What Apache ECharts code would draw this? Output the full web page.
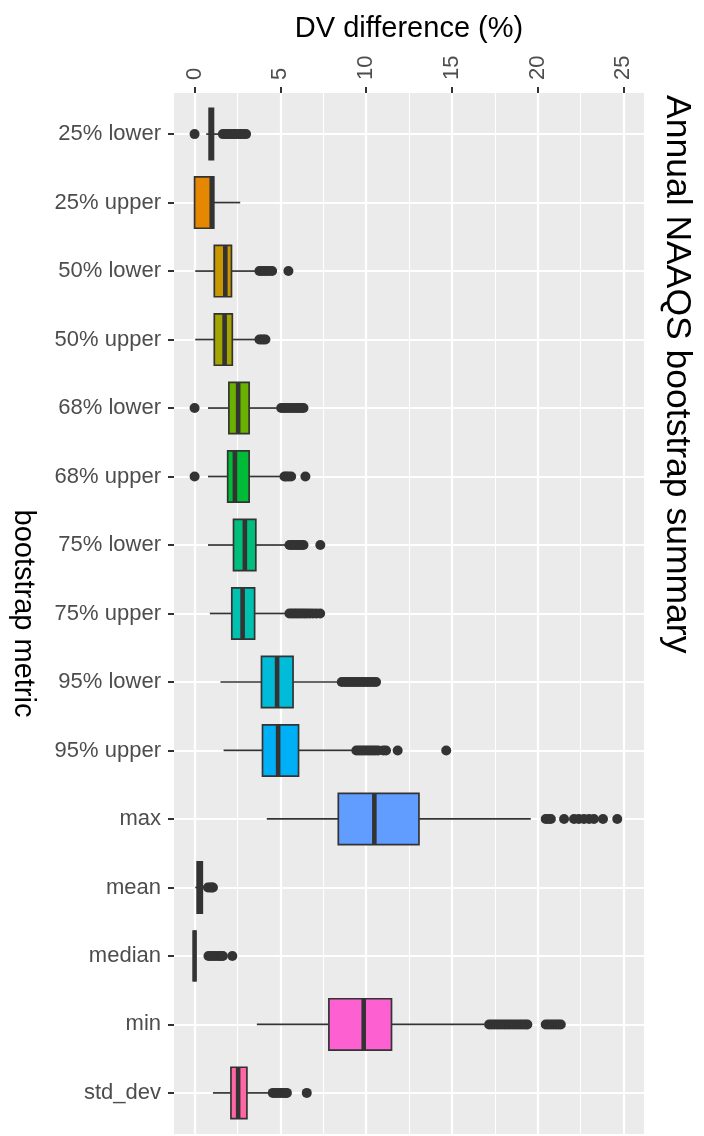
<!DOCTYPE html>
<html>
<head>
<meta charset="utf-8">
<title>Annual NAAQS bootstrap summary</title>
<script src="https://cdn.jsdelivr.net/npm/echarts@6/dist/echarts.min.js"></script>
<style>
  html, body { margin: 0; padding: 0; background: #fff; }
  #chart { width: 704px; height: 1136px; }
</style>
</head>
<body>
<div id="chart"></div>
<script>
// categories, top to bottom
var metrics = ['25% lower', '25% upper', '50% lower', '50% upper', '68% lower', '68% upper',
  '75% lower', '75% upper', '95% lower', '95% upper', 'max', 'mean', 'median', 'min', 'std_dev'];

// box statistics (DV difference, %)
var whiskerLow  = [0.68, 0,    0.04, 0.04, 0.78, 0.78, 0.78, 0.89, 1.51, 1.69, 4.21,  0.04, 0, 3.63,  1.07];
var q1          = [0.85, 0,    1.15, 1.15, 2.0,  1.93, 2.27, 2.17, 3.9,  3.96, 8.38,  0.15, 0, 7.83,  2.12];
var medians     = [0.97, 1.0,  1.79, 1.75, 2.54, 2.35, 2.93, 2.8,  4.81, 4.87, 10.48, 0.3,  0, 9.86,  2.54];
var q3          = [1.1,  1.12, 2.15, 2.2,  3.18, 3.18, 3.57, 3.5,  5.74, 6.06, 13.08, 0.45, 0, 11.48, 3.05];
var whiskerHigh = [1.45, 2.66, 3.6,  3.6,  4.9,  5.0,  5.3,  5.3,  8.4,  9.2,  19.6,  0.6,  0, 16.9,  4.3];

// outlying points per metric
var outliers = [
  [0, 1.65, 1.8, 1.95, 2.1, 2.25, 2.4, 2.55, 2.7, 2.85, 3.0],
  [],
  [3.78, 3.9, 4.05, 4.2, 4.35, 4.52, 5.47],
  [3.78, 3.9, 4.02, 4.13],
  [0, 5.05, 5.2, 5.35, 5.5, 5.65, 5.8, 5.95, 6.1, 6.22, 6.35],
  [0, 5.24, 5.35, 5.48, 5.63, 6.46],
  [5.53, 5.68, 5.82, 5.96, 6.1, 6.22, 6.35, 7.33],
  [5.53, 5.68, 5.82, 5.96, 6.1, 6.25, 6.4, 6.55, 6.72, 6.9, 7.1, 7.32],
  [8.58, 8.75, 8.9, 9.05, 9.2, 9.35, 9.5, 9.65, 9.8, 9.95, 10.1, 10.25, 10.42, 10.58],
  [9.43, 9.57, 9.71, 9.85, 9.99, 10.13, 10.27, 10.41, 10.55, 10.7, 11.0, 11.16, 11.84, 14.67],
  [20.47, 20.62, 20.77, 21.54, 22.12, 22.4, 22.7, 23.0, 23.28, 23.81, 24.64],
  [0.78, 0.9, 1.0, 1.07],
  [0.81, 0.95, 1.1, 1.25, 1.4, 1.53, 1.65, 2.2],
  [17.17, 17.32, 17.47, 17.62, 17.77, 17.92, 18.07, 18.22, 18.37, 18.52, 18.67, 18.82, 18.97,
   19.12, 19.27, 19.4, 20.47, 20.62, 20.77, 20.92, 21.07, 21.22, 21.35],
  [4.56, 4.7, 4.85, 5.0, 5.15, 5.28, 5.38, 6.54]
];

var fills = ['#F8766D', '#E58700', '#C99800', '#A3A500', '#6BB100', '#00BA38', '#00BF7D', '#00C0AF',
  '#00BCD8', '#00B0F6', '#619CFF', '#B983FF', '#E76BF3', '#FD61D1', '#FF67A4'];

var majorBreaks = [0, 5, 10, 15, 20, 25];
var minorBreaks = [2.5, 7.5, 12.5, 17.5, 22.5];
var rowBreaks = metrics.map(function (m, i) { return i; });

var ink = '#333333';

var boxData = metrics.map(function (m, i) {
  return [i, whiskerLow[i], q1[i], medians[i], q3[i], whiskerHigh[i]];
});

var pointData = [];
outliers.forEach(function (list, i) {
  list.forEach(function (v) { pointData.push([v, i]); });
});

var gridLines = []
  .concat(majorBreaks.map(function (v) { return { xAxis: v, lineStyle: { width: 2.2 } }; }))
  .concat(minorBreaks.map(function (v) { return { xAxis: v, lineStyle: { width: 1.1 } }; }))
  .concat(rowBreaks.map(function (v) { return { yAxis: v, lineStyle: { width: 2.2 } }; }));

function renderBox(params, api) {
  var i = api.value(0);
  var lo = api.coord([api.value(1), i]);
  var a = api.coord([api.value(2), i]);
  var m = api.coord([api.value(3), i]);
  var b = api.coord([api.value(4), i]);
  var hi = api.coord([api.value(5), i]);
  var h = api.size([0, 1])[1] * 0.75;
  var y = a[1];
  return {
    type: 'group',
    children: [
      { type: 'line', shape: { x1: lo[0], y1: y, x2: a[0], y2: y }, style: { stroke: ink, lineWidth: 1.7 } },
      { type: 'line', shape: { x1: b[0], y1: y, x2: hi[0], y2: y }, style: { stroke: ink, lineWidth: 1.7 } },
      { type: 'rect', shape: { x: a[0], y: y - h / 2, width: b[0] - a[0], height: h },
        style: { fill: fills[i], stroke: ink, lineWidth: 1.7 } },
      { type: 'line', shape: { x1: m[0], y1: y - h / 2, x2: m[0], y2: y + h / 2 },
        style: { stroke: ink, lineWidth: 4.6 } }
    ]
  };
}

var chart = echarts.init(document.getElementById('chart'));
chart.setOption({
  animation: false,
  textStyle: { fontFamily: 'Liberation Sans, Arial, sans-serif' },
  graphic: [{
    type: 'text',
    x: 677,
    y: 95,
    rotation: -Math.PI / 2,
    style: {
      text: 'Annual NAAQS bootstrap summary',
      fontSize: 35.5,
      fontFamily: 'Liberation Sans, Arial, sans-serif',
      fill: '#000',
      align: 'left',
      verticalAlign: 'middle'
    }
  }],
  grid: {
    left: 173, right: 60, top: 93, bottom: 2,
    show: true, backgroundColor: '#EBEBEB', borderWidth: 0
  },
  xAxis: {
    type: 'value',
    position: 'top',
    min: -1.2,
    max: 26.2,
    name: 'DV difference (%)',
    nameLocation: 'middle',
    nameGap: 50,
    nameTextStyle: { fontSize: 29, color: '#000' },
    axisLine: { show: false, onZero: false },
    axisTick: { show: true, customValues: majorBreaks, length: 6, lineStyle: { color: ink, width: 2 } },
    axisLabel: { customValues: majorBreaks, rotate: -90, fontSize: 22, color: '#4D4D4D', margin: 13 },
    splitLine: { show: false }
  },
  yAxis: {
    type: 'value',
    inverse: true,
    min: -0.6,
    max: 14.6,
    splitNumber: 15,
    name: 'bootstrap metric',
    nameLocation: 'middle',
    nameRotate: -90,
    nameGap: 137,
    nameTextStyle: { fontSize: 29, color: '#000' },
    axisLine: { show: false, onZero: false },
    axisTick: { show: true, customValues: rowBreaks, length: 6, lineStyle: { color: ink, width: 2 } },
    axisLabel: {
      customValues: rowBreaks, fontSize: 22, color: '#4D4D4D', margin: 13,
      formatter: function (v) { return metrics[Math.round(v)] || ''; }
    },
    splitLine: { show: false }
  },
  series: [
    {
      type: 'custom',
      name: 'boxes',
      renderItem: renderBox,
      data: boxData,
      encode: { x: [1, 2, 3, 4, 5], y: 0 },
      z: 3
    },
    {
      type: 'scatter',
      name: 'outliers',
      data: pointData,
      symbolSize: 10,
      itemStyle: { color: ink, opacity: 1 },
      z: 4,
      markLine: {
        silent: true,
        z: 1,
        symbol: ['none', 'none'],
        label: { show: false },
        lineStyle: { color: '#FFFFFF', type: 'solid' },
        emphasis: { disabled: true },
        data: gridLines
      }
    }
  ]
});
</script>
</body>
</html>
